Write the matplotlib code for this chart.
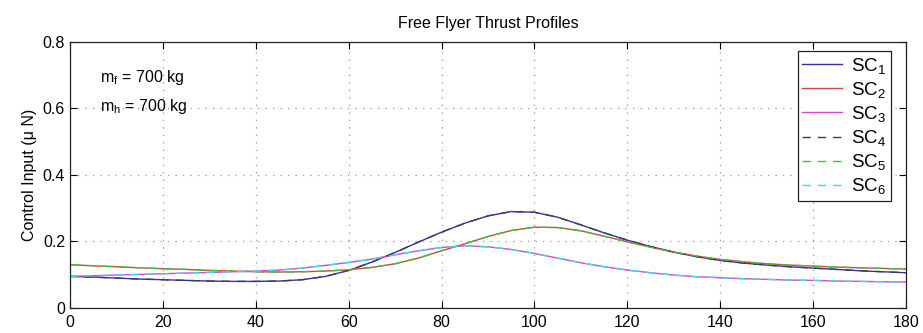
import matplotlib
matplotlib.use("Agg")
import matplotlib.pyplot as plt

plt.rcParams['font.family'] = ['Liberation Sans', 'DejaVu Sans']
plt.rcParams['mathtext.default'] = 'regular'

# time samples (first point is the initial zero value)
t = [0, 0, 5, 10, 15, 20, 25, 30, 35, 40, 45, 50, 55, 60, 65, 70, 75, 80, 85, 90,
     95, 100, 105, 110, 115, 120, 125, 130, 135, 140, 145, 150, 155, 160, 165, 170, 175, 180]

sc1 = [0, 0.095, 0.093, 0.090, 0.087, 0.085, 0.083, 0.081, 0.080, 0.080, 0.081, 0.085, 0.095,
       0.113, 0.138, 0.167, 0.198, 0.228, 0.255, 0.277, 0.290, 0.288, 0.273, 0.250, 0.226,
       0.204, 0.185, 0.168, 0.154, 0.143, 0.135, 0.129, 0.124, 0.120, 0.116, 0.112, 0.109, 0.106]
sc2 = [0, 0.130, 0.127, 0.124, 0.121, 0.118, 0.116, 0.113, 0.111, 0.109, 0.108, 0.109, 0.111,
       0.115, 0.122, 0.133, 0.150, 0.172, 0.193, 0.215, 0.233, 0.243, 0.242, 0.232, 0.216,
       0.199, 0.183, 0.168, 0.156, 0.146, 0.139, 0.133, 0.129, 0.126, 0.123, 0.121, 0.119, 0.117]
sc3 = [0, 0.095, 0.097, 0.099, 0.101, 0.103, 0.105, 0.107, 0.109, 0.111, 0.114, 0.120, 0.128,
       0.137, 0.147, 0.160, 0.172, 0.182, 0.187, 0.184, 0.176, 0.164, 0.150, 0.136, 0.124,
       0.114, 0.106, 0.099, 0.094, 0.091, 0.088, 0.086, 0.084, 0.083, 0.081, 0.080, 0.079, 0.078]
sc4 = list(sc1)
sc5 = list(sc2)
sc6 = list(sc3)

labels = ['SC$_1$', 'SC$_2$', 'SC$_3$', 'SC$_4$', 'SC$_5$', 'SC$_6$']
xticks = [0, 20, 40, 60, 80, 100, 120, 140, 160, 180]
yticks = [0, 0.2, 0.4, 0.6, 0.8]
yticklabels = ['0', '0.2', '0.4', '0.6', '0.8']

fig = plt.figure(figsize=(9.23, 3.33), dpi=100)
ax = fig.add_axes([0.0758, 0.0751, 0.9058, 0.7988])

series = [sc1, sc2, sc3, sc4, sc5, sc6]
colors = ['#3030b8', '#d04545', '#e040e0', '#404040', '#35c835', '#35e0e0']
styles = ['-', '-', '-', '--', '--', '--']
for s, c, ls, lab in zip(series, colors, styles, labels):
    ax.plot(t, s, color=c, linestyle=ls, linewidth=1.0, label=lab,
            dashes=(6, 5) if ls == '--' else (None, None))

ax.set_xlim(0, 180)
ax.set_ylim(0, 0.8)
ax.set_xticks(xticks)
ax.set_yticks(yticks)
ax.set_yticklabels(yticklabels)
ax.tick_params(direction='in', top=True, right=True, length=5, labelsize=11.5, width=0.8)
ax.tick_params(axis='x', pad=5)
ax.grid(True, linestyle=(0, (1, 5)), color='#999999', linewidth=0.9)
for sp in ax.spines.values():
    sp.set_linewidth(0.9)
    sp.set_color('#222222')

ax.set_title('Free Flyer Thrust Profiles', fontsize=11.5, pad=10)
ax.set_ylabel('Control Input (μ N)', fontsize=11.5, labelpad=4)

ax.text(0.036, 0.865, 'm$_f$ = 700 kg', transform=ax.transAxes, fontsize=11.5, va='center')
ax.text(0.036, 0.758, 'm$_h$ = 700 kg', transform=ax.transAxes, fontsize=11.5, va='center')

leg = ax.legend(loc='upper right', fontsize=13.5, fancybox=False, framealpha=1,
                edgecolor='#222222', handlelength=2.1, labelspacing=0.22,
                borderpad=0.25, handletextpad=0.5, borderaxespad=0,
                bbox_to_anchor=(0.982, 0.966))
leg.get_frame().set_linewidth(0.9)

fig.savefig('out.png', dpi=100)
